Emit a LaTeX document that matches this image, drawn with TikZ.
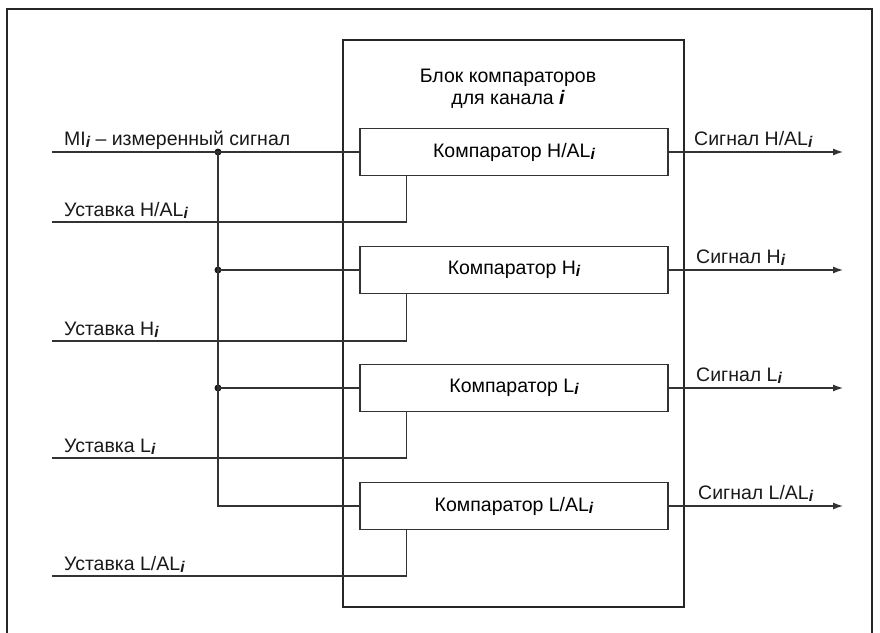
\documentclass[tikz,border=0pt]{standalone}
\usepackage{fontspec}
\setmainfont{Liberation Sans}
\usetikzlibrary{arrows,arrows.meta}
\newcommand{\ii}{\raisebox{-2pt}{\fontsize{15.5}{15.5}\selectfont\bfseries\itshape i}}
\tikzstyle{line} = [draw, black!80, line width=1.3pt]

\begin{document}
\begin{tikzpicture}[x=1pt, y=-1pt,
   block/.style={draw=black!85, line width=1.8pt, minimum width=341pt, minimum height=567pt, inner sep=0pt},
   comp/.style={draw=black!80, line width=1.4pt, minimum width=308pt, minimum height=47pt, inner sep=0pt,
     font=\fontsize{19.5}{21}\selectfont},
   lbl/.style={anchor=base west, inner sep=0pt, text=black!90, font=\fontsize{19.5}{21}\selectfont},
   dot/.style={circle, fill=black!90, inner sep=0pt, minimum size=7pt},
   transition/.style={-{Latex[length=10pt,width=7pt]}, line width=1.3pt, draw=black!80}]
\useasboundingbox (0,0) rectangle (880,632);
\draw[black!85, line width=1.4pt] (7,640) -- (7,9) -- (872,9) -- (872,640);

\node[block] (blok) at (513.5, 323.5) {};
\node[align=center, inner sep=0pt, font=\fontsize{19.5}{22}\selectfont] (title) at (508, 89)
  {Блок компараторов\\для канала {\bfseries\itshape i}};

\node[comp] (k1) at (514, 152) {Компаратор H/AL\ii};
\node[comp] (k2) at (514, 270) {Компаратор H\ii};
\node[comp] (k3) at (514, 388) {Компаратор L\ii};
\node[comp] (k4) at (514, 506) {Компаратор L/AL\ii};

% inputs
\coordinate (mi) at (52, 152);
\coordinate (u1) at (52, 222);
\coordinate (u2) at (52, 341);
\coordinate (u3) at (52, 458);
\coordinate (u4) at (52, 576);
\node[dot] (d1) at (218, 152) {};
\node[dot] (d2) at (218, 270) {};
\node[dot] (d3) at (218, 388) {};

\node[lbl] (lmi) at (64, 145) {MI\ii{} – измеренный сигнал};
\node[lbl] (lu1) at (64, 216) {Уставка H/AL\ii};
\node[lbl] (lu2) at (64, 335) {Уставка H\ii};
\node[lbl] (lu3) at (64, 452) {Уставка L\ii};
\node[lbl] (lu4) at (64, 570) {Уставка L/AL\ii};

% outputs
\coordinate (o1) at (843, 152);
\coordinate (o2) at (843, 270);
\coordinate (o3) at (843, 388);
\coordinate (o4) at (843, 506);
\node[lbl] (s1) at (694, 145) {Сигнал H/AL\ii};
\node[lbl] (s2) at (696, 263) {Сигнал H\ii};
\node[lbl] (s3) at (696, 381) {Сигнал L\ii};
\node[lbl] (s4) at (698, 499) {Сигнал L/AL\ii};

\path[line]
	(mi) -- (k1.west)
	(d1.center) |- (k4.west)
	(d2.center) -- (k2.west)
	(d3.center) -- (k3.west)
	(u1) -| ([xshift=47pt]k1.south west)
	(u2) -| ([xshift=47pt]k2.south west)
	(u3) -| ([xshift=47pt]k3.south west)
	(u4) -| ([xshift=47pt]k4.south west)
;
\path
	(k1.east) edge[transition] (o1)
	(k2.east) edge[transition] (o2)
	(k3.east) edge[transition] (o3)
	(k4.east) edge[transition] (o4)
;
\end{tikzpicture}
\end{document}
